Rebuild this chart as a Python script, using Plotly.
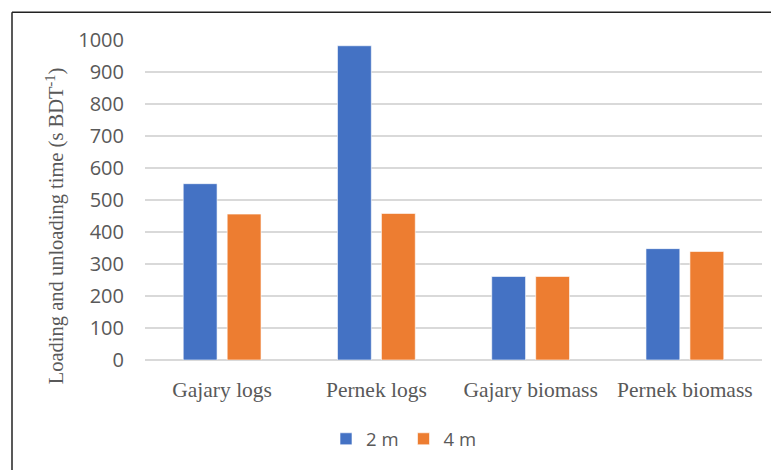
import plotly.graph_objects as go

# Loading and unloading time by site and assortment, for two log lengths
categories = ["Gajary logs", "Pernek logs", "Gajary biomass", "Pernek biomass"]
series_names = ["2 m", "4 m"]
values_2m = [551, 982, 261, 348]
values_4m = [456, 458, 261, 339]
y_ticks = [0, 100, 200, 300, 400, 500, 600, 700, 800, 900, 1000]
y_title = "Loading and unloading time (s BDT<sup>-1</sup>)"

colors = ["#4472C4", "#ED7D31"]
text_gray = "#595959"

fig = go.Figure()
for name, vals, col in zip(series_names, [values_2m, values_4m], colors):
    fig.add_trace(go.Bar(
        x=categories, y=vals, name=name,
        marker=dict(color=col, line=dict(color="rgba(255,255,255,0.6)", width=1)),
    ))

W, H = 775, 470
L, R, T, B = 145, 13, 40, 107
pw, ph = W - L - R, H - T - B

def px_x(px):
    return (px - L) / pw

def px_y(py):
    return (H - B - py) / ph

fig.update_layout(
    width=W, height=H,
    margin=dict(l=L, r=R, t=T, b=B),
    paper_bgcolor="white", plot_bgcolor="white",
    barmode="group", bargap=0.43, bargroupgap=0.23,
    showlegend=True,
    legend=dict(
        orientation="h", x=px_x(404), xanchor="center",
        y=px_y(443), yanchor="middle",
        font=dict(family="Open Sans", size=18.5, color=text_gray),
        itemwidth=30, tracegroupgap=0,
    ),
    xaxis=dict(
        showgrid=False, showline=False, zeroline=False,
        tickfont=dict(family="Liberation Serif", size=21.5, color=text_gray),
        ticklabelstandoff=14,
    ),
    yaxis=dict(
        range=[0, 1000], tickvals=y_ticks,
        showgrid=True, gridcolor="#D9D9D9", gridwidth=1.5,
        zeroline=True, zerolinecolor="#D9D9D9", zerolinewidth=1.5,
        showline=False,
        tickfont=dict(family="Open Sans", size=20, color=text_gray),
        ticklabelstandoff=20,
    ),
    annotations=[
        dict(text=y_title, textangle=-90, xref="paper", yref="paper",
             x=px_x(55), y=px_y(228), xanchor="center", yanchor="middle",
             showarrow=False,
             font=dict(family="Liberation Serif", size=20.5, color=text_gray)),
    ],
    shapes=[
        dict(type="line", xref="paper", yref="paper",
             x0=px_x(12), x1=px_x(771), y0=px_y(12), y1=px_y(12),
             line=dict(color="#222222", width=1.5)),
        dict(type="line", xref="paper", yref="paper",
             x0=px_x(12), x1=px_x(12), y0=px_y(12), y1=px_y(480),
             line=dict(color="#222222", width=1.5)),
    ],
)

fig.write_html("out.html")
